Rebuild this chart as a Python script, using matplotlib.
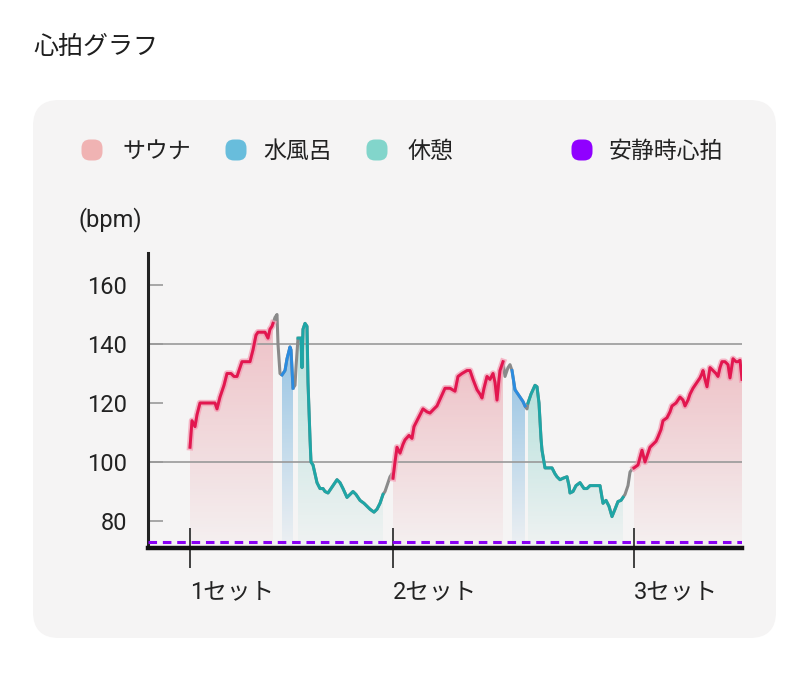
import numpy as np
import matplotlib
matplotlib.use('Agg')
import matplotlib.pyplot as plt
from matplotlib.patches import FancyBboxPatch

plt.rcParams['font.family'] = ['Roboto', 'Noto Sans CJK JP']

# ##################################################
# 1) data (elapsed minutes from start of set 1, heart rate)
# ##################################################

elapsed_min = [
    0.0, 0.4, 1.0, 1.4, 2.0, 3.4, 4.4, 5.0, 5.4, 6.0, 6.8, 7.4, 8.2, 8.8, 9.4, 10.0, 10.4, 11.4, 12.0, 12.6,
    13.2, 13.6, 14.4, 15.0, 15.6, 16.0, 16.4, 16.6,
    17.0, 17.4, 17.6, 18.0,
    18.4, 19.0, 19.4, 20.0, 20.2, 20.6,
    21.0, 21.2,
    21.6, 22.2, 22.4, 22.6, 23.0, 23.4, 23.6, 24.0, 24.2, 24.6, 25.0, 25.4, 26.0, 26.6, 27.0, 27.6, 28.2, 28.6,
    29.4, 30.0, 30.6, 31.4, 32.0, 32.6, 33.2, 34.0, 34.8, 35.4, 36.0, 36.8, 37.4, 38.0, 38.6,
    39.0, 39.6, 40.0, 40.4,
    40.6, 41.0, 41.4, 42.0, 42.6, 43.0, 43.8, 44.4, 44.8, 45.4, 46.0, 46.6, 47.4, 48.0, 48.8, 49.4, 50.2, 51.0,
    52.0, 53.0, 53.6, 54.4, 55.4, 56.0, 56.6, 57.4, 58.0, 58.4, 58.8, 59.4, 60.0, 60.6, 61.0, 61.4, 61.8, 62.0, 62.6,
    63.0, 63.6, 64.0,
    64.4, 65.0, 65.6, 66.0, 66.6, 67.0,
    67.4,
    67.6, 68.2, 68.6, 69.0, 69.4, 69.8, 70.2, 70.4, 71.0, 71.6, 72.4, 73.0, 73.4, 74.0, 74.6, 75.4, 75.8, 76.0,
    76.6, 77.2, 78.0, 78.8, 79.4, 80.0, 80.6, 81.4, 82.0, 82.6, 83.2, 83.8, 84.4, 85.0, 85.6, 86.2, 86.6,
    87.0, 87.6, 88.0, 88.6,
    88.8, 89.6, 90.4, 91.0, 91.6, 92.0, 92.6, 93.2, 93.6, 94.2, 94.6, 95.4, 96.0, 96.4, 97.2, 98.0, 98.6, 99.0,
    99.6, 100.0, 100.6, 101.4, 102.0, 102.4, 102.6, 103.0, 103.4, 104.0, 104.6, 105.2, 105.6, 106.0, 106.4,
    107.0, 107.6, 108.0, 108.6, 109.2, 109.6, 110.0, 110.4,
]
bpm = [
    105, 114, 112, 116, 120, 120, 120, 120, 118, 122, 126, 130, 130, 129, 129, 132, 134, 134, 134, 138,
    143, 144, 144, 144, 142, 145, 146, 147,
    149, 150, 140, 130,
    129.5, 131, 135, 139, 138, 125,
    126, 132,
    142, 142, 132, 145, 147, 146, 127, 108, 100, 99, 96, 93, 91, 91, 90, 89.5, 91, 92,
    94, 93, 91, 88, 89, 90, 89, 87, 86, 85, 84, 83, 84, 86, 89,
    90, 93, 95, 96,
    94.5, 100, 105, 103, 106, 107.5, 109, 108, 112, 114, 116, 118, 117, 116.6, 118, 119, 122, 125,
    125, 124, 129, 130, 131, 131, 128, 124.5, 123, 121.7, 125, 129, 128, 130, 127, 121, 128, 131, 134,
    129, 132, 133,
    131, 124.5, 123, 122, 120.5, 119,
    118,
    120, 123, 124.5, 126, 125.5, 120, 108, 104, 98, 98, 98, 96, 95, 94, 94.5, 95, 92, 89.5,
    90, 92, 93, 91, 91, 92, 92, 92, 92, 86, 87, 85, 81.5, 84, 86.6, 87, 88,
    89, 92, 96.6, 98,
    98, 99, 104, 100, 103, 105, 106, 107, 108.5, 111, 114, 115, 117, 119, 120, 122, 121, 119,
    121, 123, 125, 127, 128.5, 130, 131, 128, 125.5, 132, 131, 130, 129, 132, 134,
    134, 133, 128.5, 135, 134, 134, 134.5, 128,
]

sauna_spans = [(0.0, 16.6), (40.6, 62.6), (88.8, 110.4)]
water_spans = [(18.4, 20.6), (64.4, 67.0)]
rest_spans = [(21.6, 38.6), (67.6, 86.6)]

resting_bpm = 73
set_starts = [0.0, 40.6, 88.8]
set_labels = ['1セット', '2セット', '3セット']
y_ticks = [80, 100, 120, 140, 160]

legend_labels = ['サウナ', '水風呂', '休憩', '安静時心拍']
legend_colors = ['#f0b3b3', '#68bddc', '#82d5cb', '#9000ff']

t = np.array(elapsed_min)
y = np.array(bpm)

# ##################################################
# 2) figure, rounded panel, title, legend
# ##################################################

fig = plt.figure(figsize=(8, 6.79), dpi=100)
fig.patch.set_facecolor('white')

# pixel overlay for panel / legend
bg = fig.add_axes([0, 0, 1, 1], zorder=0)
bg.set_xlim(0, 800)
bg.set_ylim(679, 0)
bg.axis('off')
r = 26
bg.add_patch(FancyBboxPatch((33 + r, 100 + r), 743 - 2 * r, 538 - 2 * r,
                            boxstyle=f'round,pad={r}', fc='#f5f4f4', ec='none'))

bg.text(33, 47, '心拍グラフ', fontsize=18, va='center', ha='left', color='#1e1e1e',
        family=['Noto Sans CJK JP'])

marker_x = [92, 236, 377, 582]
text_x = [122, 263, 407, 609]
for mx, tx, lab, col in zip(marker_x, text_x, legend_labels, legend_colors):
    bg.add_patch(FancyBboxPatch((mx - 2, 150 - 2), 4, 4,
                                boxstyle='round,pad=8.5,rounding_size=8.5',
                                fc=col, ec='none'))
    bg.text(tx, 151, lab, fontsize=16.5, va='center', ha='left', color='#222222',
            family=['Noto Sans CJK JP'])

bg.text(78, 220, '(bpm)', fontsize=17, va='center', ha='left', color='#222222')

# ##################################################
# 3) heart rate chart
# ##################################################

ax = fig.add_axes([148 / 800, 131 / 679, 594 / 800, 295 / 679], zorder=1)
ax.set_facecolor('none')
y_bottom, y_top = 70.85, 170.85
x_left, x_right = -8.4, 110.4


def gradient_fill(ax, tt, yy, rgb, a_top):
    poly = ax.fill_between(tt, yy, y_bottom, color='none', lw=0)
    grad = np.linspace(a_top * 0.08, a_top, 256)[:, None]
    img = np.zeros((256, 1, 4))
    img[..., :3] = rgb
    img[..., 3] = grad
    im = ax.imshow(img, extent=[tt[0], tt[-1], y_bottom, yy.max()], origin='lower',
                   aspect='auto', zorder=1, interpolation='bilinear')
    im.set_clip_path(poly.get_paths()[0], ax.transData)


phases = [
    (sauna_spans, '#e3164f', (0.88, 0.36, 0.42), 0.33),
    (water_spans, '#2b8ce0', (0.30, 0.62, 0.84), 0.55),
    (rest_spans, '#1ea6a6', (0.38, 0.78, 0.74), 0.42),
]

# whole series in grey, phases drawn over it
ax.plot(t, y, color='#8a8a8a', lw=2.2, zorder=3, solid_capstyle='round')

for spans, line_col, fill_rgb, a_top in phases:
    for a, b in spans:
        m = (t >= a - 1e-9) & (t <= b + 1e-9)
        gradient_fill(ax, t[m], y[m], fill_rgb, a_top)
        if line_col == '#e3164f':
            ax.plot(t[m], y[m], color='#f59ab2', lw=4.6, alpha=0.7, zorder=3.5)
        ax.plot(t[m], y[m], color=line_col, lw=2.1, zorder=4)

for g in [100, 140]:
    ax.axhline(g, color='#999999', lw=1.2, zorder=2)

ax.axhline(resting_bpm, color='#8a00f5', lw=2.2, ls=(0, (2.8, 1.9)), zorder=5)

ax.set_xlim(x_left, x_right)
ax.set_ylim(y_bottom, y_top)

for s in ['top', 'right']:
    ax.spines[s].set_visible(False)
ax.spines['left'].set_linewidth(2.2)
ax.spines['left'].set_color('#222222')
ax.spines['bottom'].set_linewidth(3.2)
ax.spines['bottom'].set_color('#111111')
ax.spines['bottom'].set_zorder(6)

ax.set_yticks(y_ticks)
ax.tick_params(axis='y', direction='in', length=11, width=1.2, color='#999999',
               labelsize=17, labelcolor='#222222', pad=15)
ax.set_xticks(set_starts, labels=set_labels)
ax.tick_params(axis='x', direction='inout', length=29, width=1.3, color='#333333',
               labelsize=17, labelcolor='#222222', pad=9)
for lbl in ax.get_xticklabels():
    lbl.set_ha('left')

plt.savefig('out.png', dpi=100, facecolor='white')
